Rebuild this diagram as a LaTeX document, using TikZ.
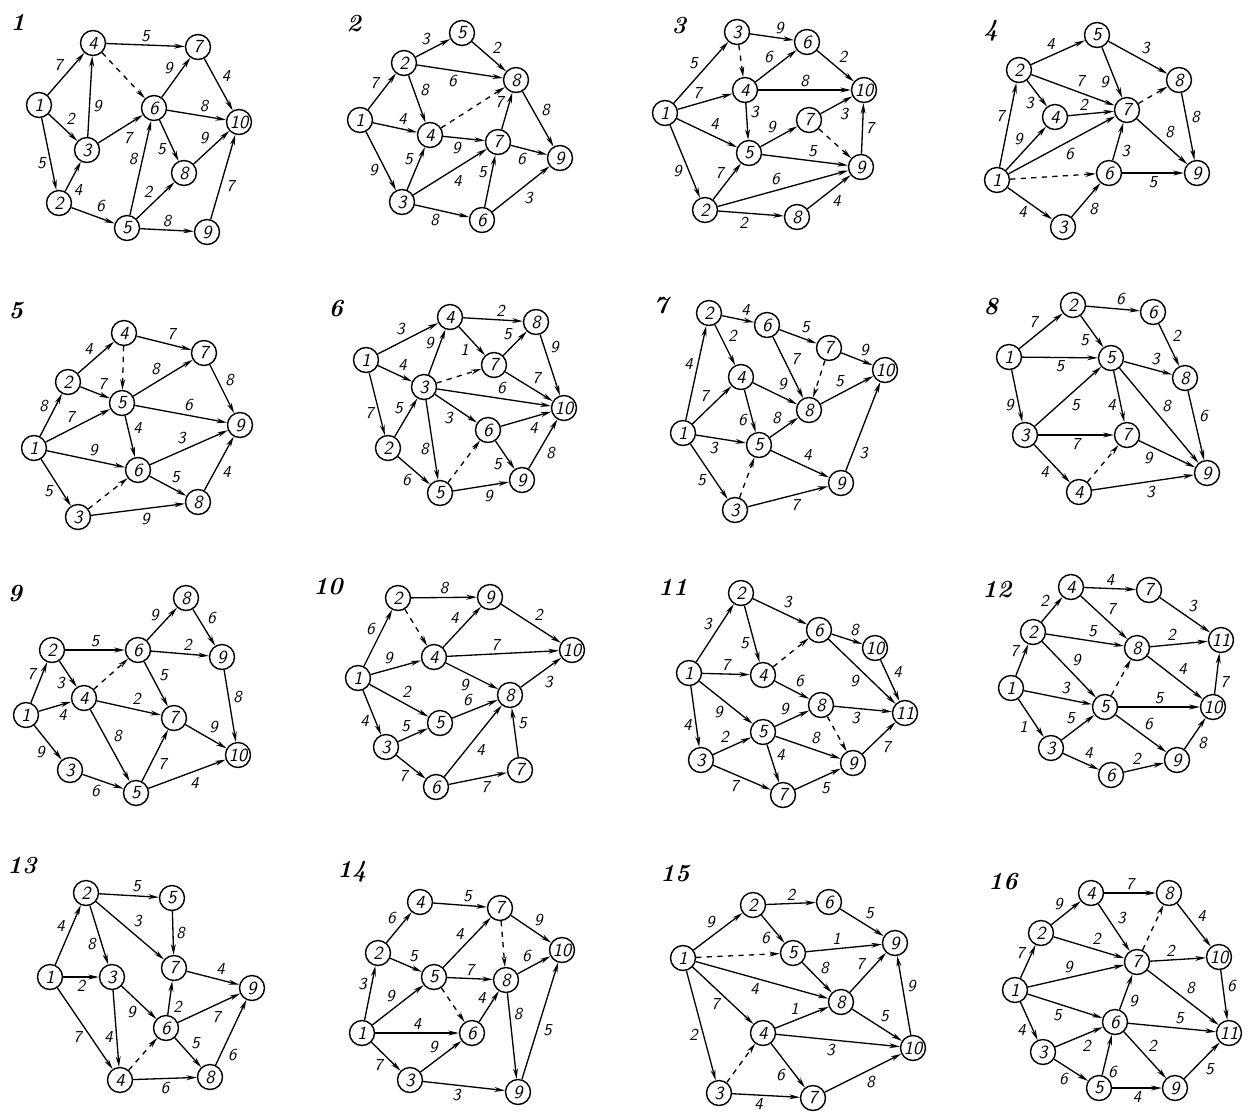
\documentclass[tikz,border=0pt]{standalone}
\usetikzlibrary{arrows.meta}
\begin{document}
\begin{tikzpicture}[x=0.02cm, y=-0.02cm, >={Stealth[length=6pt, width=2.8pt]},
    ev/.style={circle, draw, line width=0.8pt, minimum size=0.5cm, inner sep=0pt,
      font=\fontsize{10.5}{10.5}\selectfont\sffamily\itshape},
    act/.style={->, line width=0.75pt},
    dum/.style={act, dashed},
    wt/.style={font=\fontsize{9.5}{9.5}\selectfont\sffamily\itshape, inner sep=1.5pt},
    ttl/.style={font=\fontsize{14}{14}\selectfont\bfseries\itshape}]

        \useasboundingbox (0,0) rectangle (1249,1117);

        % Network 1
        \node[ttl] (t1) at (18,22) {1};
        \foreach \n/\x/\y in {1/39/105, 2/59/203, 3/87/150, 4/93/43, 5/127/228,
            6/154/108, 7/198/47, 8/184/173, 9/207/232, 10/239/122}
          \node[ev] (a1-\n) at (\x,\y) {\n};
        \foreach \i/\j/\w/\s in {1/4/7/left, 1/3/2/left, 1/2/5/right, 3/4/9/right,
            3/6/7/right, 2/5/6/left, 5/6/8/left, 4/7/5/left, 6/7/9/left, 7/10/4/left,
            6/10/8/left, 6/8/5/right, 8/10/9/left, 5/8/2/left, 5/9/8/left, 9/10/7/right}
          \draw[act] (a1-\i) -- node[wt, auto=\s] {\w} (a1-\j);
        \draw[act] (a1-2) -- node[wt, auto=right, pos=.35] {4} (a1-3);
        \draw[dum] (a1-4) -- (a1-6);

        % Network 2
        \node[ttl] (t2) at (354,24) {2};
        \foreach \n/\x/\y in {1/360/120, 2/404/63, 3/402/202, 4/430/135, 5/462/33,
            6/482/220, 7/498/142, 8/516/80, 9/560/158}
          \node[ev] (a2-\n) at (\x,\y) {\n};
        \foreach \i/\j/\w/\s in {2/5/3/left, 5/8/2/left, 2/8/6/right, 1/2/7/left,
            2/4/8/left, 1/4/4/left, 4/7/9/right, 1/3/9/right, 3/4/5/left, 3/7/4/right,
            7/8/7/left, 8/9/8/left, 7/9/6/right, 3/6/8/right, 6/7/5/left, 6/9/3/right}
          \draw[act] (a2-\i) -- node[wt, auto=\s] {\w} (a2-\j);
        \draw[dum] (a2-4) -- (a2-8);

        % Network 3
        \node[ttl] (t3) at (679,26) {3};
        \foreach \n/\x/\y in {1/665/113, 2/705/210, 3/737/32, 4/745/90, 5/749/153,
            6/807/42, 7/809/120, 8/797/217, 9/861/167, 10/864/90}
          \node[ev] (a3-\n) at (\x,\y) {\n};
        \foreach \i/\j/\w/\s in {1/3/5/left, 3/6/9/left, 4/6/6/left, 6/10/2/left,
            1/4/7/left, 4/10/8/left, 4/5/3/left, 1/5/4/left, 5/7/9/left, 7/10/3/right,
            5/9/5/left, 9/10/7/right, 1/2/9/right, 2/5/7/left, 2/9/6/left, 2/8/2/right,
            8/9/4/right}
          \draw[act] (a3-\i) -- node[wt, auto=\s] {\w} (a3-\j);
        \draw[dum] (a3-3) -- (a3-4);
        \draw[dum] (a3-7) -- (a3-9);

        % Network 4
        \node[ttl] (t4) at (991,31) {4};
        \foreach \n/\x/\y in {1/997/180, 2/1019/70, 3/1063/227, 4/1055/117, 5/1097/35,
            6/1109/173, 7/1127/110, 8/1179/80, 9/1197/173}
          \node[ev] (a4-\n) at (\x,\y) {\n};
        \foreach \i/\j/\w/\s in {2/5/4/left, 5/8/3/left, 5/7/9/right, 2/7/7/left,
            2/4/3/right, 4/7/2/left, 1/2/7/left, 1/4/9/left, 1/7/6/right, 8/9/8/left,
            7/9/8/left, 6/7/3/right, 6/9/5/right, 1/3/4/right, 3/6/8/right}
          \draw[act] (a4-\i) -- node[wt, auto=\s] {\w} (a4-\j);
        \draw[dum] (a4-7) -- (a4-8);
        \draw[dum] (a4-1) -- (a4-6);

        % Network 5
        \node[ttl] (t5) at (16,311) {5};
        \foreach \n/\x/\y in {1/34/448, 2/68/382, 3/78/517, 4/124/333, 5/122/403,
            6/138/470, 7/204/353, 8/198/502, 9/240/425}
          \node[ev] (a5-\n) at (\x,\y) {\n};
        \foreach \i/\j/\w/\s in {2/4/4/left, 4/7/7/left, 1/2/8/left, 2/5/7/left,
            1/5/7/left, 5/7/8/left, 7/9/8/left, 5/9/6/left, 5/6/4/left, 1/6/9/left,
            6/9/3/left, 6/8/5/left, 8/9/4/right, 1/3/5/right, 3/8/9/right}
          \draw[act] (a5-\i) -- node[wt, auto=\s] {\w} (a5-\j);
        \draw[dum] (a5-4) -- (a5-5);
        \draw[dum] (a5-3) -- (a5-6);

        % Network 6
        \node[ttl] (t6) at (336,309) {6};
        \foreach \n/\x/\y in {1/366/360, 2/388/448, 3/424/387, 4/450/317, 5/440/493,
            6/488/430, 7/494/365, 8/536/322, 9/522/480, 10/564/408}
          \node[ev] (a6-\n) at (\x,\y) {\n};
        \foreach \i/\j/\w/\s in {1/4/3/left, 4/8/2/left, 1/3/4/left, 3/4/9/left,
            4/7/1/right, 7/8/5/left, 7/10/7/left, 3/10/6/left, 1/2/7/right, 2/3/5/left,
            3/6/3/right, 6/10/4/right, 3/5/8/right, 2/5/6/right, 6/9/5/right,
            5/9/9/right, 9/10/8/right}
          \draw[act] (a6-\i) -- node[wt, auto=\s] {\w} (a6-\j);
        \draw[act] (a6-8) -- node[wt, auto=left, pos=.35] {9} (a6-10);
        \draw[dum] (a6-3) -- (a6-7);
        \draw[dum] (a6-5) -- (a6-6);

        % Network 7
        \node[ttl] (t7) at (661,306) {7};
        \foreach \n/\x/\y in {1/683/433, 2/709/313, 3/735/510, 4/741/377, 5/759/445,
            6/767/325, 7/829/348, 8/809/410, 9/841/483, 10/885/370}
          \node[ev] (a7-\n) at (\x,\y) {\n};
        \foreach \i/\j/\w/\s in {1/2/4/left, 2/6/4/left, 2/4/2/left, 6/7/5/left,
            6/8/7/left, 7/10/9/left, 1/4/7/left, 4/8/9/left, 4/5/6/right, 5/8/8/left,
            8/10/5/left, 1/5/3/right, 1/3/5/right, 5/9/4/left, 3/9/7/right}
          \draw[act] (a7-\i) -- node[wt, auto=\s] {\w} (a7-\j);
        \draw[act] (a7-9) -- node[wt, auto=right, pos=.3] {3} (a7-10);
        \draw[dum] (a7-7) -- (a7-8);
        \draw[dum] (a7-3) -- (a7-5);

        % Network 8
        \node[ttl] (t8) at (991,307) {8};
        \foreach \n/\x/\y in {1/1009/357, 2/1073/305, 3/1025/435, 4/1079/492, 5/1111/358,
            6/1153/312, 7/1127/435, 8/1185/378, 9/1207/473}
          \node[ev] (a8-\n) at (\x,\y) {\n};
        \foreach \i/\j/\w/\s in {1/2/7/left, 2/6/6/left, 2/5/5/right, 6/8/2/left,
            1/5/5/right, 5/8/3/left, 8/9/6/left, 1/3/9/right, 3/5/5/right, 5/7/4/right,
            5/9/8/left, 3/7/7/right, 3/4/4/right, 4/9/3/right}
          \draw[act] (a8-\i) -- node[wt, auto=\s] {\w} (a8-\j);
        \draw[act] (a8-7) -- node[wt, auto=right, pos=.3] {9} (a8-9);
        \draw[dum] (a8-4) -- (a8-7);

        % Network 9
        \node[ttl] (t9) at (15,594) {9};
        \foreach \n/\x/\y in {1/26/715, 2/52/650, 3/70/770, 4/84/698, 5/136/793,
            6/138/650, 7/174/718, 8/186/598, 9/222/657, 10/238/755}
          \node[ev] (a9-\n) at (\x,\y) {\n};
        \foreach \i/\j/\w/\s in {1/2/7/left, 2/6/5/left, 2/4/3/right, 6/8/9/left,
            8/9/6/left, 6/9/2/left, 6/7/5/left, 9/10/8/left, 1/4/4/right, 4/7/2/left,
            7/10/9/left, 4/5/8/left, 5/7/7/right, 1/3/9/right, 3/5/6/right, 5/10/4/right}
          \draw[act] (a9-\i) -- node[wt, auto=\s] {\w} (a9-\j);
        \draw[dum] (a9-4) -- (a9-6);

        % Network 10
        \node[ttl] (t10) at (328,587) {10};
        \foreach \n/\x/\y in {1/358/678, 2/398/598, 3/386/747, 4/434/657, 5/440/723,
            6/436/787, 7/520/770, 8/510/695, 9/490/597, 10/572/650}
          \node[ev] (a10-\n) at (\x,\y) {\n};
        \foreach \i/\j/\w/\s in {1/2/6/left, 2/9/8/left, 4/9/4/left, 9/10/2/left,
            1/4/9/left, 4/10/7/left, 4/8/9/right, 8/10/3/right, 1/5/2/left, 5/8/6/left,
            1/3/4/right, 3/5/5/left, 3/6/7/right, 6/8/4/right, 6/7/7/right, 7/8/5/right}
          \draw[act] (a10-\i) -- node[wt, auto=\s] {\w} (a10-\j);
        \draw[dum] (a10-2) -- (a10-4);

        % Network 11
        \node[ttl] (t11) at (673,587) {11};
        \foreach \n/\x/\y in {1/689/673, 2/741/593, 3/701/760, 4/763/675, 5/763/732,
            6/819/630, 7/783/795, 8/821/705, 9/853/763, 10/875/648, 11/905/713}
          \node[ev] (a11-\n) at (\x,\y) {\n};
        \foreach \i/\j/\w/\s in {1/2/3/left, 2/6/3/left, 2/4/5/right, 6/10/8/left,
            10/11/4/left, 6/11/9/right, 1/4/7/left, 4/8/6/left, 8/11/3/right,
            1/5/9/right, 5/8/9/left, 5/9/8/left, 9/11/7/right, 1/3/4/right, 3/5/2/left,
            5/7/4/left, 3/7/7/right, 7/9/5/right}
          \draw[act] (a11-\i) -- node[wt, auto=\s] {\w} (a11-\j);
        \draw[dum] (a11-4) -- (a11-6);
        \draw[dum] (a11-8) -- (a11-9);

        % Network 12
        \node[ttl] (t12) at (997,590) {12};
        \foreach \n/\x/\y in {1/1011/688, 2/1033/632, 3/1051/748, 4/1071/587, 5/1105/707,
            6/1111/775, 7/1149/590, 8/1137/648, 9/1177/760, 10/1213/707, 11/1221/640}
          \node[ev] (a12-\n) at (\x,\y) {\n};
        \foreach \i/\j/\w/\s in {2/4/2/left, 4/7/4/left, 7/11/3/left, 4/8/7/left,
            2/8/5/left, 8/11/2/left, 1/2/7/left, 2/5/9/left, 8/10/4/left, 10/11/7/right,
            1/5/3/left, 5/10/5/left, 5/9/6/left, 9/10/8/right, 1/3/1/right, 3/5/5/left,
            3/6/4/left, 6/9/2/left}
          \draw[act] (a12-\i) -- node[wt, auto=\s] {\w} (a12-\j);
        \draw[dum] (a12-5) -- (a12-8);

        % Network 13
        \node[ttl] (t13) at (22,866) {13};
        \foreach \n/\x/\y in {1/50/977, 2/86/893, 3/112/977, 4/120/1080, 5/172/898,
            6/166/1028, 7/174/968, 8/210/1077, 9/252/988}
          \node[ev] (a13-\n) at (\x,\y) {\n};
        \foreach \i/\j/\w/\s in {1/2/4/left, 2/5/5/left, 2/3/8/right, 2/7/3/left,
            5/7/8/left, 1/3/2/right, 7/9/4/left, 3/6/9/right, 6/7/2/right, 3/4/4/right,
            1/4/7/right, 6/9/7/right, 6/8/5/left, 4/8/6/right}
          \draw[act] (a13-\i) -- node[wt, auto=\s] {\w} (a13-\j);
        \draw[act] (a13-8) -- node[wt, auto=right, pos=.3] {6} (a13-9);
        \draw[dum] (a13-4) -- (a13-6);

        % Network 14
        \node[ttl] (t14) at (352,872) {14};
        \foreach \n/\x/\y in {1/362/1033, 2/378/953, 3/410/1080, 4/420/902, 5/434/977,
            6/472/1033, 7/500/908, 8/506/980, 9/518/1092, 10/562/950}
          \node[ev] (a14-\n) at (\x,\y) {\n};
        \foreach \i/\j/\w/\s in {2/4/6/left, 4/7/5/left, 7/10/9/left, 1/2/3/left,
            2/5/5/left, 5/7/4/left, 5/8/7/left, 8/10/6/left, 1/5/9/left, 6/8/4/left,
            9/10/5/right, 1/6/4/left, 1/3/7/right, 3/6/9/left, 3/9/3/right}
          \draw[act] (a14-\i) -- node[wt, auto=\s] {\w} (a14-\j);
        \draw[act] (a14-8) -- node[wt, auto=left, pos=.35] {8} (a14-9);
        \draw[dum] (a14-7) -- (a14-8);
        \draw[dum] (a14-5) -- (a14-6);

        % Network 15
        \node[ttl] (t15) at (675,874) {15};
        \foreach \n/\x/\y in {1/683/958, 2/753/905, 3/719/1093, 4/763/1033, 5/793/953,
            6/829/902, 7/813/1098, 8/841/1002, 9/895/943, 10/913/1048}
          \node[ev] (a15-\n) at (\x,\y) {\n};
        \foreach \i/\j/\w/\s in {1/2/9/left, 2/6/2/left, 6/9/5/left, 2/5/6/right,
            5/9/1/left, 5/8/8/left, 8/9/7/left, 10/9/9/right, 1/8/4/right, 1/4/7/right,
            4/8/1/left, 8/10/5/left, 4/10/3/right, 1/3/2/right, 4/7/6/right,
            3/7/4/right, 7/10/8/right}
          \draw[act] (a15-\i) -- node[wt, auto=\s] {\w} (a15-\j);
        \draw[dum] (a15-1) -- (a15-5);
        \draw[dum] (a15-3) -- (a15-4);

        % Network 16
        \node[ttl] (t16) at (1003,882) {16};
        \foreach \n/\x/\y in {1/1015/990, 2/1041/933, 3/1043/1052, 4/1091/893, 5/1099/1088,
            6/1115/1022, 7/1137/962, 8/1169/893, 9/1175/1088, 10/1219/957, 11/1229/1033}
          \node[ev] (a16-\n) at (\x,\y) {\n};
        \foreach \i/\j/\w/\s in {2/4/9/left, 4/8/7/left, 8/10/4/left, 4/7/3/left,
            2/7/2/left, 7/10/2/left, 10/11/6/left, 1/2/7/left, 1/7/9/left, 6/7/9/right,
            7/11/8/left, 1/6/5/right, 6/11/5/left, 1/3/4/right, 3/6/2/right,
            6/9/2/left, 9/11/5/right, 3/5/6/right, 5/9/4/right}
          \draw[act] (a16-\i) -- node[wt, auto=\s] {\w} (a16-\j);
        \draw[act] (a16-5) -- node[wt, auto=right, pos=.3] {6} (a16-6);
        \draw[dum] (a16-7) -- (a16-8);

    \end{tikzpicture}
\end{document}
